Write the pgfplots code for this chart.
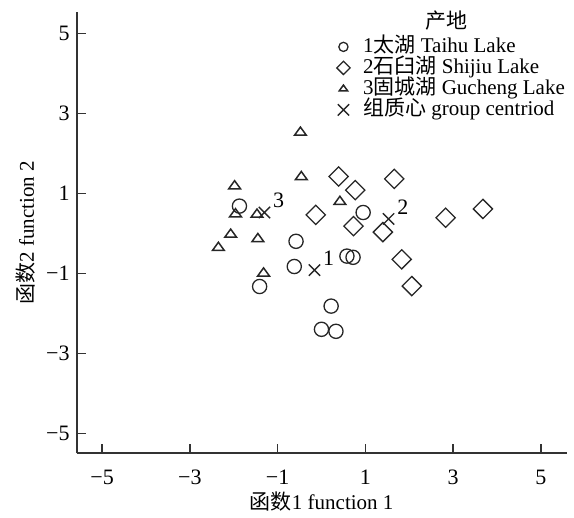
\documentclass[border=0pt]{standalone}
\usepackage{fontspec}
\setmainfont{Liberation Serif}
\newfontfamily\cjk{Noto Sans CJK SC}
\usepackage{pgfplots}
\pgfplotsset{compat=1.18}

\begin{document}
\begin{tikzpicture}
\begin{axis}[
    name=ax,
    scale only axis,
    width=245pt, height=220.8pt,
    xmin=-5.58, xmax=5.59,
    ymin=-5.5, ymax=5.54,
    axis lines=left,
    axis line style={-, line width=0.9pt, black!80},
    xtick={-5,-3,-1,1,3,5},
    ytick={-5,-3,-1,1,3,5},
    xticklabels={−5,−3,−1,1,3,5},
    yticklabels={−5,−3,−1,1,3,5},
    tick align=inside,
    major tick length=4.7pt,
    tick style={line width=0.7pt, black!80},
    font=\fontsize{10.5}{12}\selectfont,
    tick label style={font=\fontsize{11}{12}\selectfont},
    xticklabel style={yshift=-5pt},
    xlabel={{\cjk 函数}1 function 1},
    ylabel={{\cjk 函数}2 function 2},
    xlabel style={yshift=3.5pt},
    ylabel style={yshift=-1.5pt},
    clip=false,
    legend style={at={(0.53,0.945)}, anchor=north west, draw=none, fill=none,
        inner sep=0pt, font=\fontsize{10.5}{12}\selectfont,
        nodes={inner sep=1pt, text height=7pt, text depth=1.5pt},
        /tikz/every odd column/.append style={column sep=5.5pt}},
    legend cell align=left,
]

% 1 Taihu
\addplot[only marks, mark=o, mark size=3.55pt, black!85, mark options={line width=0.65pt},
    legend image post style={mark size=2.3pt}] table {
x y
-1.87 0.68
0.95 0.52
-0.58 -0.20
0.58 -0.57
0.72 -0.60
-0.62 -0.83
-1.41 -1.33
0.22 -1.82
0.00 -2.40
0.33 -2.45
};
\addlegendentry{1{\cjk 太湖} Taihu Lake}

% 2 Shijiu
\addplot[only marks, mark=square, mark size=3.4pt, black!85, mark options={rotate=45, line width=0.65pt},
    legend image post style={mark size=2.35pt}] table {
x y
0.39 1.42
1.66 1.36
0.77 1.08
-0.13 0.46
3.68 0.61
2.83 0.39
0.73 0.18
1.40 0.03
1.83 -0.65
2.06 -1.32
};
\addlegendentry{2{\cjk 石臼湖} Shijiu Lake}

% 3 Gucheng
\addplot[only marks, mark=triangle, mark size=3.4pt, black!85, mark options={yscale=0.8, line width=0.75pt},
    legend image post style={mark size=2.4pt}] table {
x y
-0.48 2.52
-0.46 1.41
-1.98 1.18
-1.96 0.48
-1.47 0.47
0.42 0.79
-2.07 -0.03
-1.45 -0.14
-2.35 -0.36
-1.32 -1.00
};
\addlegendentry{3{\cjk 固城湖} Gucheng Lake}

% group centroids
\addplot[only marks, mark=x, mark size=4pt, black!85, mark options={line width=0.7pt},
    nodes near coords, point meta=explicit symbolic,
    nodes near coords style={anchor=west, inner sep=1pt, xshift=3pt, yshift=6pt,
        font=\fontsize{11}{12}\selectfont, black}] table[meta=lab] {
x y lab
-0.16 -0.92 1
1.53 0.36 2
-1.30 0.52 3
};
\addlegendentry{{\cjk 组质心} group centriod}

\node[font=\fontsize{10.5}{12}\selectfont\cjk] at (rel axis cs:0.755,0.981) {产地};
\end{axis}
\path ([shift={(-38.35pt,-31.85pt)}]ax.south west) rectangle ([shift={(248.65pt,226.65pt)}]ax.south west);
\end{tikzpicture}
\end{document}
